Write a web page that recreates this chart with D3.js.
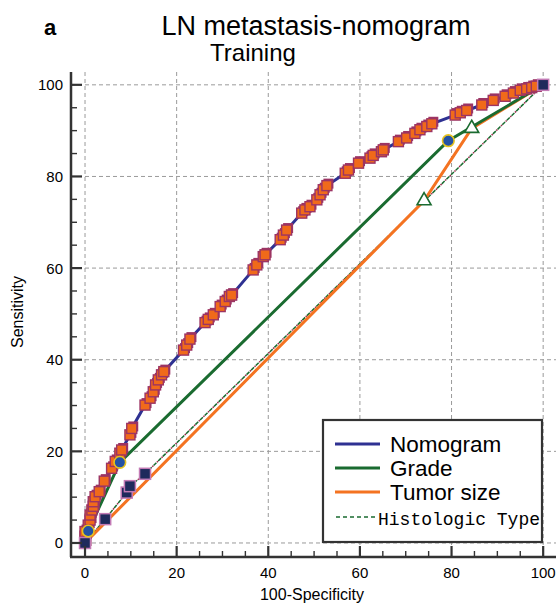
<!DOCTYPE html>
<html><head><meta charset="utf-8">
<script src="https://cdn.jsdelivr.net/npm/d3@7"></script>
<style>body{margin:0;background:#fff}svg{display:block}</style>
</head><body><svg id="c" width="560" height="604"></svg>
<script>
const nomoX=[0,0,0,0.7,1.1,1.1,1.5,1.8,1.8,2.2,3.1,4.2,5.8,6.6,7.6,8,9.8,10.2,13.1,14.2,14.9,15.4,16,16.7,17.2,21.5,22.2,22.9,26.2,26.9,28,29.5,30.6,31.5,32,36.7,37.5,38.9,39.3,42.6,43.3,44,47.3,48,49.1,50.6,51.3,52,52.8,56.8,57.5,59.7,62.2,62.9,64.7,65.1,68.4,70.2,72,73.1,74.6,75.7,80.8,81.9,83.3,86.6,89.1,91.7,93.5,95,96.4,97.5,98.5,100];
const nomoY=[0,1.5,2.5,3.9,5,6.1,7.2,8,9,10.1,11.2,13.5,16.3,17.8,19.6,20.3,23.6,25,30.1,31.6,33,34.5,35.6,36.7,37.4,42.1,43.2,44.5,48.1,48.8,49.8,51.6,52.7,53.8,54.1,59.6,60.7,62.5,62.9,66.2,67.2,68.3,72,72.7,73.4,74.9,76,77.1,78,80.7,81.4,82.9,84,84.6,85.4,85.8,87.6,88.4,89.4,90.2,90.9,91.5,93.4,93.9,94.4,95.6,96.6,97.5,98.2,98.8,99.1,99.4,99.7,100];
const gradeX=[0,0.7,7.6,79.3,100];
const gradeY=[0,2.6,17.6,87.8,100];
const tumorX=[0,74,84.4,100];
const tumorY=[0,74.7,90.5,100];
const histX=[0,4.4,9.1,9.8,13.1,100];
const histY=[0,5.2,11,12.4,15.1,100];
const ticks=[0,20,40,60,80,100];
const legendLabels=["Nomogram","Grade","Tumor size","Histologic Type"];

const svg=d3.select("#c");
const x=d3.scaleLinear().domain([-3.06,102.8]).range([71,556]);
const y=d3.scaleLinear().domain([-3.06,102.8]).range([557,72]);
const zip=(a,b)=>a.map((v,i)=>[v,b[i]]);
const line=d3.line().x(d=>x(d[0])).y(d=>y(d[1]));

// grid
const g=svg.append("g");
ticks.forEach(t=>{
  g.append("line").attr("x1",x(t)).attr("x2",x(t)).attr("y1",72).attr("y2",557)
   .attr("stroke","#9a9a9a").attr("stroke-width",1).attr("stroke-dasharray","4,3");
  g.append("line").attr("y1",y(t)).attr("y2",y(t)).attr("x1",71).attr("x2",556)
   .attr("stroke","#9a9a9a").attr("stroke-width",1).attr("stroke-dasharray","4,3");
});

// histologic (dotted red under dashed green)
svg.append("path").attr("d",line(zip(histX,histY))).attr("fill","none")
  .attr("stroke","#9b2a4a").attr("stroke-width",1.5).attr("stroke-dasharray","1.5,5").attr("stroke-dashoffset",-4.7);
svg.append("path").attr("d",line(zip(histX,histY))).attr("fill","none")
  .attr("stroke","#1a6b30").attr("stroke-width",1.5).attr("stroke-dasharray","4,2.5");
// tumor
svg.append("path").attr("d",line(zip(tumorX,tumorY))).attr("fill","none")
  .attr("stroke","#f47321").attr("stroke-width",3);
// grade
svg.append("path").attr("d",line(zip(gradeX,gradeY))).attr("fill","none")
  .attr("stroke","#1a6b30").attr("stroke-width",3);
// nomogram
svg.append("path").attr("d",line(zip(nomoX,nomoY))).attr("fill","none")
  .attr("stroke","#2e3192").attr("stroke-width",3);

// nomogram markers (skip last which is hist square)
const nomoPts=zip(nomoX,nomoY).slice(0,-1);
svg.append("g").selectAll("rect").data(nomoPts).join("rect")
  .attr("x",d=>x(d[0])-3.5).attr("y",d=>y(d[1])-7).attr("width",10).attr("height",10)
  .attr("fill","#9c3463");
svg.append("g").selectAll("rect").data(nomoPts).join("rect")
  .attr("x",d=>x(d[0])-5).attr("y",d=>y(d[1])-5).attr("width",10).attr("height",10)
  .attr("fill","#f06a1a").attr("stroke","#9c3463").attr("stroke-width",1.4);

// hist markers
svg.append("g").selectAll("rect").data(zip(histX,histY)).join("rect")
  .attr("x",d=>x(d[0])-5.5).attr("y",d=>y(d[1])-5.5).attr("width",11).attr("height",11)
  .attr("fill","#1f2a5c").attr("stroke","#c27ab5").attr("stroke-width",1.5);

// grade markers
svg.append("g").selectAll("circle").data(zip(gradeX,gradeY).slice(1,-1)).join("circle")
  .attr("cx",d=>x(d[0])).attr("cy",d=>y(d[1])).attr("r",5.8)
  .attr("fill","#2452a4").attr("stroke","#e6c21e").attr("stroke-width",1.6);

// tumor markers
const tri=d3.symbol().type(d3.symbolTriangle).size(85);
svg.append("g").selectAll("path").data(zip(tumorX,tumorY).slice(1,-1)).join("path")
  .attr("d",tri).attr("transform",d=>`translate(${x(d[0])},${y(d[1])})`)
  .attr("fill","#fff").attr("stroke","#1a6b30").attr("stroke-width",1.6);

// axes
const ax=svg.append("g").attr("stroke","#333");
ax.append("line").attr("x1",71).attr("x2",71).attr("y1",72).attr("y2",557).attr("stroke-width",2.5);
ax.append("line").attr("x1",70).attr("x2",556).attr("y1",557).attr("y2",557).attr("stroke-width",2.5);
d3.range(0,101,5).forEach(t=>{
  const L=t%20===0?11:6, w=t%20===0?2.2:1.4;
  ax.append("line").attr("x1",71).attr("x2",71+L).attr("y1",y(t)).attr("y2",y(t)).attr("stroke-width",w);
  ax.append("line").attr("x1",x(t)).attr("x2",x(t)).attr("y1",557).attr("y2",557-L).attr("stroke-width",w);
});
const ff="Liberation Sans, Arial, sans-serif";
svg.append("g").selectAll("text").data(ticks).join("text")
  .attr("x",63).attr("y",d=>y(d)+5.5).attr("text-anchor","end")
  .attr("font-family",ff).attr("font-size",15).text(d=>d);
svg.append("g").selectAll("text").data(ticks).join("text")
  .attr("x",d=>x(d)).attr("y",578).attr("text-anchor","middle")
  .attr("font-family",ff).attr("font-size",15).text(d=>d);

svg.append("text").attr("x",312).attr("y",600).attr("text-anchor","middle")
  .attr("font-family",ff).attr("font-size",16).text("100-Specificity");
svg.append("text").attr("transform","translate(23,312) rotate(-90)").attr("text-anchor","middle")
  .attr("font-family",ff).attr("font-size",16).text("Sensitivity");

svg.append("text").attr("x",316).attr("y",35).attr("text-anchor","middle")
  .attr("font-family",ff).attr("font-size",27).text("LN metastasis-nomogram");
svg.append("text").attr("x",253).attr("y",61).attr("text-anchor","middle")
  .attr("font-family",ff).attr("font-size",24).text("Training");
svg.append("text").attr("x",44).attr("y",35)
  .attr("font-family",ff).attr("font-size",22).attr("font-weight","bold").text("a");

// legend
const lg=svg.append("g");
lg.append("rect").attr("x",323).attr("y",420).attr("width",219).attr("height",122)
  .attr("fill","#fff").attr("stroke","#333").attr("stroke-width",2.2);
const lc=["#2e3192","#1a6b30","#f47321","#1a6b30"];
const ly=[444,468,492,517];
legendLabels.forEach((t,i)=>{
  lg.append("line").attr("x1",i===3?336:335).attr("x2",i===3?378:380).attr("y1",ly[i]).attr("y2",ly[i])
    .attr("stroke",lc[i]).attr("stroke-width",i===3?1.3:2.8).attr("stroke-dasharray",i===3?"4,3":null);
  lg.append("text").attr("x",i===3?378:390).attr("y",ly[i]+7.5)
    .attr("font-family",i===3?"Liberation Mono, monospace":ff).attr("font-size",i===3?18:22.5)
    .text(t);
});
</script></body></html>
